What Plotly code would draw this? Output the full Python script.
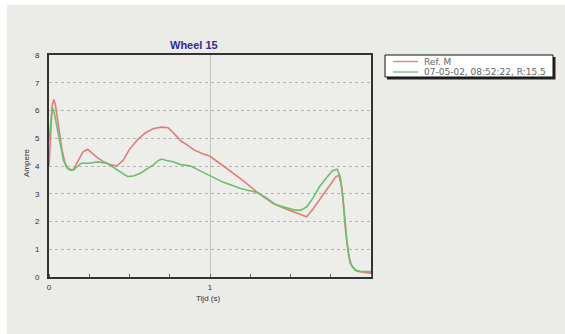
import plotly.graph_objects as go

W, H = 565, 334

# Reference current trace (Ref. M)
t_ref = [0, 0.01, 0.02, 0.03, 0.04, 0.06, 0.08, 0.10, 0.12, 0.15, 0.18, 0.21, 0.24,
         0.27, 0.30, 0.34, 0.38, 0.42, 0.46, 0.50, 0.55, 0.60, 0.65, 0.70, 0.74, 0.78,
         0.82, 0.86, 0.90, 0.95, 1.00, 1.06, 1.12, 1.20, 1.29, 1.39, 1.46, 1.52, 1.56,
         1.60, 1.64, 1.68, 1.73, 1.78, 1.80, 1.82, 1.84, 1.86, 1.88, 1.91, 1.95, 2.00]
amp_ref = [4.0, 5.2, 6.2, 6.4, 6.2, 5.4, 4.6, 4.1, 3.9, 3.85, 4.2, 4.5, 4.6,
           4.45, 4.3, 4.15, 4.05, 4.0, 4.2, 4.6, 4.95, 5.2, 5.35, 5.4, 5.38, 5.15,
           4.9, 4.75, 4.58, 4.45, 4.35, 4.1, 3.85, 3.5, 3.07, 2.66, 2.48, 2.35, 2.25,
           2.17, 2.45, 2.77, 3.2, 3.6, 3.67, 3.2, 1.8, 0.8, 0.4, 0.22, 0.17, 0.14]

# Measured current trace
t_meas = [0, 0.01, 0.02, 0.03, 0.05, 0.07, 0.09, 0.11, 0.13, 0.15, 0.17, 0.20, 0.25,
          0.30, 0.36, 0.40, 0.44, 0.49, 0.53, 0.57, 0.61, 0.65, 0.68, 0.70, 0.73, 0.77,
          0.82, 0.88, 0.93, 0.98, 1.03, 1.08, 1.14, 1.19, 1.24, 1.29, 1.35, 1.41, 1.47,
          1.52, 1.56, 1.60, 1.64, 1.68, 1.72, 1.76, 1.79, 1.81, 1.83, 1.85, 1.87, 1.90,
          1.94, 2.00]
amp_meas = [4.9, 5.6, 6.1, 6.0, 5.4, 4.7, 4.2, 3.95, 3.85, 3.85, 3.95, 4.1, 4.1,
            4.15, 4.1, 3.95, 3.8, 3.62, 3.65, 3.75, 3.9, 4.05, 4.2, 4.25, 4.2, 4.15,
            4.05, 4.0, 3.85, 3.7, 3.55, 3.42, 3.3, 3.19, 3.12, 3.05, 2.85, 2.6, 2.5,
            2.42, 2.4, 2.52, 2.85, 3.25, 3.55, 3.83, 3.88, 3.6, 2.6, 1.3, 0.5, 0.25,
            0.2, 0.2]

series_names = ["Ref. M", "07-05-02, 08:52:22, R:15.5"]
series_colors = ["#e47c7c", "#6cc06c"]
x_ticks = [0, 1]
y_ticks = [0, 1, 2, 3, 4, 5, 6, 7, 8]

# plot box in pixels
px_l, px_r, px_t, px_b = 49, 371, 55, 277


def fx(p):
    return p / W


def fy(p):
    return 1 - p / H


fig = go.Figure()
fig.add_trace(go.Scatter(x=t_ref, y=amp_ref, mode="lines", name=series_names[0],
                         line=dict(color=series_colors[0], width=1.6)))
fig.add_trace(go.Scatter(x=t_meas, y=amp_meas, mode="lines", name=series_names[1],
                         line=dict(color=series_colors[1], width=1.6)))

font = "Liberation Sans, Arial, sans-serif"

shapes = [
    # white outer strip along top and left
    dict(type="rect", xref="paper", yref="paper", x0=0, x1=1, y0=fy(5), y1=1,
         fillcolor="#ffffff", line=dict(width=0), layer="below"),
    dict(type="rect", xref="paper", yref="paper", x0=0, x1=fx(7), y0=0, y1=1,
         fillcolor="#ffffff", line=dict(width=0), layer="below"),
    # legend box with drop shadow
    dict(type="rect", xref="paper", yref="paper", x0=fx(387), x1=fx(555.5),
         y0=fy(79.5), y1=fy(57), fillcolor="#222222", line=dict(width=0)),
    dict(type="rect", xref="paper", yref="paper", x0=fx(385), x1=fx(553),
         y0=fy(77), y1=fy(55), fillcolor="#ffffff", line=dict(color="#111111", width=1)),
]
annotations = [
    dict(text="<b>Wheel 15</b>", x=fx(194), y=fy(45), xref="paper", yref="paper",
         xanchor="center", yanchor="middle", showarrow=False,
         font=dict(size=11, color="#2c2c9c")),
    dict(text="Tijd (s)", x=fx(208), y=fy(298.5), xref="paper", yref="paper",
         xanchor="center", yanchor="middle", showarrow=False,
         font=dict(size=8, color="#333333")),
    dict(text="Ampere", x=fx(26), y=fy(163), xref="paper", yref="paper",
         xanchor="center", yanchor="middle", showarrow=False, textangle=-90,
         font=dict(size=8, color="#333333")),
]

# legend rows
for i, (name, col) in enumerate(zip(series_names, series_colors)):
    row_y = 61.5 + 10.5 * i
    shapes.append(dict(type="line", xref="paper", yref="paper", x0=fx(393), x1=fx(418),
                       y0=fy(row_y), y1=fy(row_y), line=dict(color=col, width=1.3)))
    annotations.append(dict(text=name, x=fx(422), y=fy(row_y), xref="paper",
                            yref="paper", xanchor="left", yanchor="middle",
                            showarrow=False,
                            font=dict(family="DejaVu Sans, sans-serif", size=9,
                                      color="#666666")))

fig.update_layout(
    width=W, height=H,
    margin=dict(l=0, r=0, t=0, b=0),
    paper_bgcolor="#ebebe7",
    plot_bgcolor="#ededea",
    font=dict(family=font, size=8, color="#333333"),
    showlegend=False,
    xaxis=dict(domain=[fx(px_l), fx(px_r)], range=[0, 2], tickvals=x_ticks,
               automargin=False,
               showline=True, linecolor="#333333", linewidth=2, mirror=True,
               showgrid=True, gridcolor="#c4c4c0", gridwidth=1, zeroline=False,
               ticks="", ticklabelstandoff=1,
               minor=dict(dtick=0.25, ticks="inside", ticklen=3, tickcolor="#666666",
                          showgrid=False)),
    yaxis=dict(domain=[fy(px_b), fy(px_t)], range=[0, 8], tickvals=y_ticks,
               automargin=False,
               showline=True, linecolor="#333333", linewidth=2, mirror=True,
               showgrid=True, gridcolor="#b4b4b0", griddash="dot", gridwidth=1,
               zeroline=False, ticks="", ticklabelstandoff=6),
    shapes=shapes,
    annotations=annotations,
)

fig.write_html("out.html")
